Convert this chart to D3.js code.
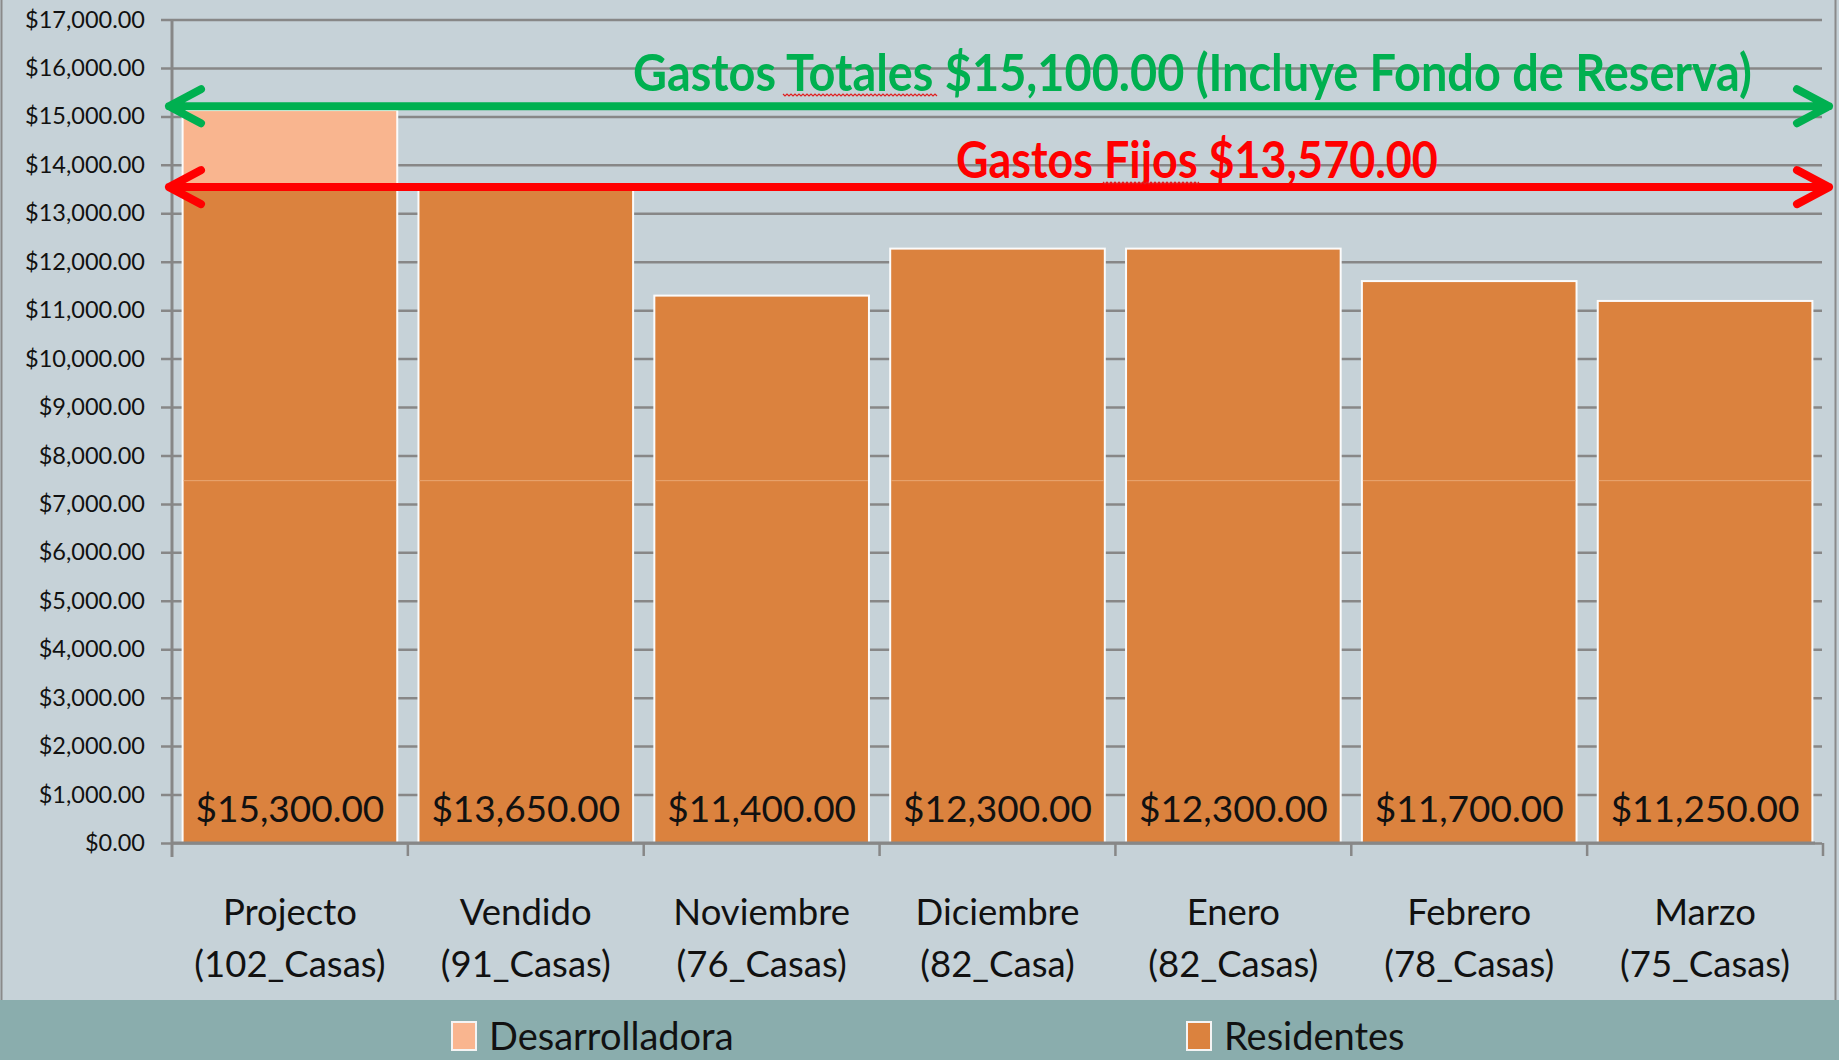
<!DOCTYPE html>
<html>
<head>
<meta charset="utf-8">
<script src="https://cdn.jsdelivr.net/npm/d3@7"></script>
<style>
  body { margin: 0; background: #c6d2d8; }
  svg { display: block; font-family: Lato, "Open Sans", sans-serif; }
</style>
</head>
<body>
<svg width="1839" height="1060"></svg>
<script>
// data
var categories = ["Projecto", "Vendido", "Noviembre", "Diciembre", "Enero", "Febrero", "Marzo"];
var subLabels = ["(102_Casas)", "(91_Casas)", "(76_Casas)", "(82_Casa)", "(82_Casas)", "(78_Casas)", "(75_Casas)"];
var residentes = [13500, 13500, 11300, 12270, 12270, 11600, 11190];
var desarrolladora = [1630, 0, 0, 0, 0, 0, 0];
var printedValues = [15300, 13650, 11400, 12300, 12300, 11700, 11250];
var yTicks = d3.range(0, 17001, 1000);
var seriesNames = ["Desarrolladora", "Residentes"];
var seriesColors = ["#f9b58f", "#db823e"];
// annotation arrows: where they sit on the value axis, and their text
var arrowLevels = [15210, 13540];
var arrowTexts = ["Gastos Totales $15,100.00 (Incluye Fondo de Reserva)", "Gastos Fijos $13,570.00"];
var arrowColors = ["#00b050", "#ff0000"];
var segmentLine = 7480;

var svg = d3.select("svg"),
    width = +svg.attr("width"),
    height = +svg.attr("height"),
    margin = {top: 19.5, left: 172, right: 16, bottom: 217};

var x = d3.scaleBand()
    .domain(categories)
    .range([margin.left, width - margin.right])
    .paddingInner(0.09)
    .paddingOuter(0.045);
var y = d3.scaleLinear()
    .domain([0, 17000])
    .range([height - margin.bottom, margin.top]);

var fmt = d3.format("$,.2f");
var font = "Lato, 'Open Sans', sans-serif";

// background + border
svg.append("rect")
    .attr("width", width).attr("height", height)
    .attr("fill", "#c6d2d8");
svg.append("rect")
    .attr("x", 1.5).attr("y", -2)
    .attr("width", width - 5).attr("height", height + 4)
    .attr("fill", "none")
    .attr("stroke", "#8a8a8a")
    .attr("stroke-width", 2);

// gridlines and y axis
var yAxis = d3.axisLeft(y)
    .tickValues(yTicks)
    .tickSize(-(width - margin.right - margin.left - 1))
    .tickFormat(fmt);
var gy = svg.append("g")
    .attr("class", "axis axis--y")
    .attr("transform", "translate(" + margin.left + ",0)")
    .call(yAxis)
    .attr("font-family", font);
gy.select(".domain").remove();
gy.selectAll(".tick line")
    .attr("x1", -11)
    .attr("stroke", "#878787")
    .attr("stroke-width", 2.5);
gy.selectAll(".tick text")
    .attr("x", -27)
    .attr("fill", "#111")
    .style("font-size", "23.5px");

// stacked bars
var stackData = categories.map(function(c, i) {
    return {cat: c, Residentes: residentes[i], Desarrolladora: desarrolladora[i]};
});
var stack = d3.stack().keys(["Residentes", "Desarrolladora"]);
var layers = stack(stackData);
var color = d3.scaleOrdinal().domain(seriesNames).range(seriesColors);

svg.append("g").selectAll("g")
    .data(layers).enter()
    .append("g")
    .attr("fill", function(d) { return color(d.key); })
    .selectAll("rect")
    .data(function(d) { return d.filter(function(p) { return p[1] > p[0]; }); })
    .enter().append("rect")
    .attr("x", function(d) { return x(d.data.cat); })
    .attr("y", function(d) { return y(d[1]); })
    .attr("width", x.bandwidth())
    .attr("height", function(d) { return y(d[0]) - y(d[1]); })
    .attr("stroke", "#fbfbfb")
    .attr("stroke-width", 2);

// faint segment line inside the bars
svg.append("g").selectAll("line")
    .data(categories).enter()
    .append("line")
    .attr("x1", function(d) { return x(d) + 1; })
    .attr("x2", function(d) { return x(d) + x.bandwidth() - 1; })
    .attr("y1", y(segmentLine)).attr("y2", y(segmentLine))
    .attr("stroke", "#e9a874")
    .attr("stroke-width", 1);

// vertical axis line + x axis
svg.append("line")
    .attr("x1", margin.left).attr("x2", margin.left)
    .attr("y1", y(17000)).attr("y2", y(0) + 14)
    .attr("stroke", "#878787").attr("stroke-width", 3);
svg.append("line")
    .attr("x1", margin.left).attr("x2", width - margin.right - 8)
    .attr("y1", y(0)).attr("y2", y(0))
    .attr("stroke", "#878787").attr("stroke-width", 3);
var step = x.step();
svg.append("g").selectAll("line")
    .data(categories).enter()
    .append("line")
    .attr("x1", function(d) { return x(d) - (step - x.bandwidth()) / 2 + step; })
    .attr("x2", function(d) { return x(d) - (step - x.bandwidth()) / 2 + step; })
    .attr("y1", y(0)).attr("y2", y(0) + 13)
    .attr("stroke", "#878787").attr("stroke-width", 2.5);

// value labels in the bars
svg.append("g").selectAll("text")
    .data(printedValues).enter()
    .append("text")
    .attr("x", function(d, i) { return x(categories[i]) + x.bandwidth() / 2; })
    .attr("y", y(0) - 21)
    .attr("text-anchor", "middle")
    .attr("fill", "#111")
    .style("font-size", "37px")
    .text(function(d) { return fmt(d); });

// category labels, two lines
var xl = svg.append("g").selectAll("text")
    .data(categories).enter()
    .append("text")
    .attr("text-anchor", "middle")
    .attr("fill", "#111")
    .style("font-size", "36.5px");
xl.append("tspan")
    .attr("x", function(d) { return x(d) + x.bandwidth() / 2; })
    .attr("y", 925)
    .text(function(d) { return d; });
xl.append("tspan")
    .attr("x", function(d) { return x(d) + x.bandwidth() / 2; })
    .attr("y", 977)
    .text(function(d, i) { return subLabels[i]; });

// arrows with their captions
var arrowLeft = 169, arrowRight = 1829;
var arrows = svg.append("g").selectAll("g")
    .data(arrowLevels).enter()
    .append("g")
    .attr("stroke", function(d, i) { return arrowColors[i]; })
    .attr("fill", "none")
    .attr("stroke-width", 8)
    .attr("stroke-linecap", "round")
    .attr("stroke-linejoin", "round");
arrows.append("path")
    .attr("d", function(d) {
        var yy = y(d);
        return "M" + arrowLeft + "," + yy + "H" + arrowRight +
            "M" + (arrowLeft + 32) + "," + (yy - 17) + "L" + arrowLeft + "," + yy + "L" + (arrowLeft + 32) + "," + (yy + 17) +
            "M" + (arrowRight - 32) + "," + (yy - 17) + "L" + arrowRight + "," + yy + "L" + (arrowRight - 32) + "," + (yy + 17);
    });

// captions are condensed horizontally, like the original
var captionX = [633, 956], captionW = [1119, 482], captionUp = [15, 9];
svg.append("g").selectAll("text")
    .data(arrowTexts).enter()
    .append("text")
    .attr("fill", function(d, i) { return arrowColors[i]; })
    .style("font-size", "51px")
    .style("font-weight", "bold")
    .text(function(d) { return d; })
    .attr("transform", function(d, i) {
        var sx = captionW[i] / this.getComputedTextLength();
        return "translate(" + captionX[i] + "," + (y(arrowLevels[i]) - captionUp[i]) + ") scale(" + sx + ",1)";
    });

// spell-check squiggles under "Totales" and "Fijos"
function zigzag(x0, x1, yy) {
    var p = "M" + x0 + "," + yy, k = 0;
    for (var xx = x0 + 2; xx <= x1; xx += 2) {
        k++;
        p += "L" + xx + "," + (yy + (k % 2 ? 2 : 0));
    }
    return p;
}
svg.append("path")
    .attr("d", zigzag(783, 938, 94) + zigzag(1103, 1199, 182))
    .attr("fill", "none")
    .attr("stroke", "#e02020")
    .attr("stroke-width", 1.2);

// legend band
svg.append("rect")
    .attr("x", 0).attr("y", 1000)
    .attr("width", width).attr("height", 60)
    .attr("fill", "#8aadad");
var legendX = [452, 1187];
var legend = svg.append("g").selectAll("g")
    .data(seriesNames).enter()
    .append("g")
    .attr("transform", function(d, i) { return "translate(" + legendX[i] + ",1022)"; });
legend.append("rect")
    .attr("width", 24).attr("height", 28)
    .attr("fill", function(d) { return color(d); })
    .attr("stroke", "#f4f4f4")
    .attr("stroke-width", 2);
legend.append("text")
    .attr("x", 37).attr("y", 28)
    .attr("fill", "#111")
    .style("font-size", "38px")
    .text(function(d) { return d; });
</script>
</body>
</html>
